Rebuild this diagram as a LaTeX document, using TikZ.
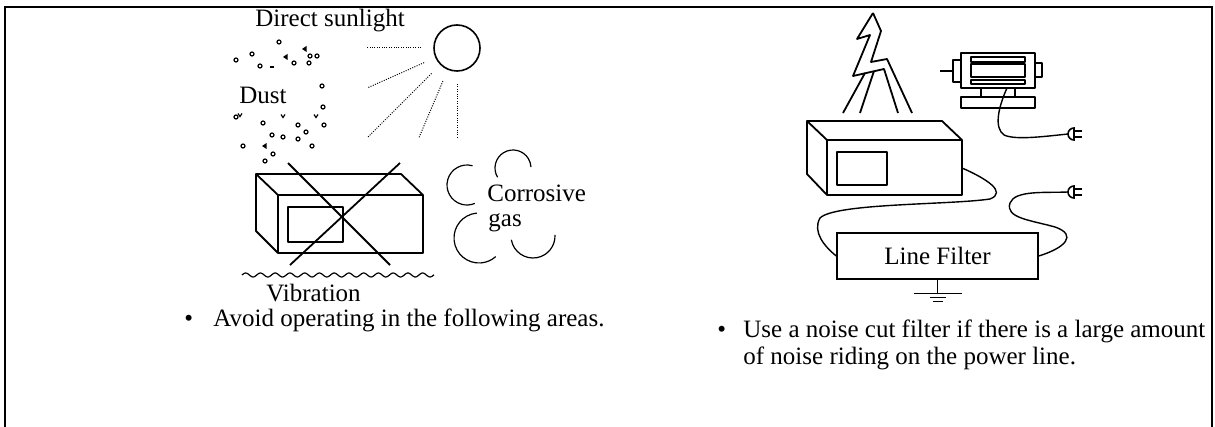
\documentclass[tikz,border=0pt]{standalone}
\usepackage{fontspec}
\setmainfont{Liberation Serif}
\usetikzlibrary{calc}

\begin{document}
\begin{tikzpicture}[x=0.5pt,y=-0.5pt,
   txt/.style={font=\fontsize{12.5}{15}\selectfont,inner sep=0pt},
   ray/.style={line width=0.5pt,dash pattern=on 0.5pt off 0.7pt},
   edge/.style={line width=0.9pt,line join=round},
   thinline/.style={line width=0.6pt},
   cable/.style={line width=0.7pt},
   plug/.pic={
     \draw[line width=0.8pt,fill=white] (6,-6) arc[start angle=270,end angle=90,radius=6] -- cycle;
     \draw[line width=0.8pt] (6,-3) -- (14,-3) (6,3) -- (14,3);
   }
   ]
    \useasboundingbox (0,0) rectangle (1215,427);

    % frame (open at the bottom)
    \draw[line width=1.35pt] (5,427) -- (5,7) -- (1212,7) -- (1212,427);

    % sun and rays:
    \node[draw,circle,line width=0.8pt,minimum size=23pt,inner sep=0pt] (sun) at (457,48) {};
    \foreach \a/\l in {180/90,156/98,135/126,113/97,90/91}
      \draw[ray] ([shift={(\a:36)}]sun.center) -- ([shift={(\a:\l)}]sun.center);
    \node[txt,anchor=base west] (sunlight) at (255,27) {Direct sunlight};

    % dust:
    \foreach \p in {(279,42),(252,54),(310,56),(317,56),(236,60),(260,66),
                    (294,63),(309,63),(322,86),(323,107),(236,117),(263,123),
                    (324,125),(298,125),(272,135),(283,137),(306,132),(298,139),
                    (312,146),(243,146),(273,154),(265,161)}
      \draw[thinline] \p circle (2);
    \foreach \p in {(302,49),(283,57),(262,146)}
      \fill \p -- ++(4.5,-3) -- ++(0,6) -- cycle;
    \foreach \p in {(240,115),(283,116),(316,116)}
      \draw[thinline] \p ++(-2,-1.5) -- ++(2,3) -- ++(2,-3);
    \draw[thinline] (270,67) -- (274,67);
    \node[txt,anchor=base west] (dust) at (239,104) {Dust};

    % crossed-out cabinet:
    \draw[edge] (278,195) rectangle (423,253);
    \draw[edge] (278,195) -- (256,174) -- (401,174) -- (423,195);
    \draw[edge] (256,174) -- (256,231) -- (278,253);
    \draw[edge] (288,207) rectangle (343,242);
    \draw[edge] (288,163) -- (390,265);
    \draw[edge] (400,163) -- (290,265);

    % vibration:
    \draw[thinline] plot[domain=242:434,samples=160,smooth]
      (\x,{275-2*sin(24.41*(\x-242))});
    \node[txt,anchor=base west] (vib) at (266,301) {Vibration};

    % gas clouds:
    \draw[thinline,shift={(467,185)}] (286:20) arc[start angle=286,end angle=67,radius=20];
    \draw[thinline,shift={(513,168)}] (149:18) arc[start angle=149,end angle=357,radius=18];
    \draw[thinline,shift={(479,238)}] (265:25) arc[start angle=265,end angle=48,radius=25];
    \draw[thinline,shift={(533,236)}] (170:22) arc[start angle=170,end angle=-3,radius=22];
    \node[txt,anchor=base west] (corr) at (487,202) {Corrosive};
    \node[txt,anchor=base west] (gas) at (488,227) {gas};

    % left caption
    \node[txt,anchor=base west] (bulletL) at (184,327) {\textbullet};
    \node[txt,anchor=base west] (avoid) at (213,327) {Avoid operating in the following areas.};

    % lightning:
    \draw[edge] (873,13) -- (857,39) -- (870,35) -- (853,76) -- (884,69) -- (898,113);
    \draw[edge] (873,13) -- (881,31) -- (871,62) -- (887,59) -- (912,113);
    \draw[edge] (865,73) -- (843,113);
    \draw[edge] (874,71) -- (860,113);

    % cabinet:
    \draw[edge] (827,140) rectangle (962,195);
    \draw[edge] (827,140) -- (807,121) -- (942,121) -- (962,140);
    \draw[edge] (807,121) -- (807,174) -- (827,195);
    \draw[edge] (837,152) rectangle (887,185);

    % motor on its stand:
    \draw[edge] (961,53) rectangle (1035,88);
    \draw[edge] (953,60) rectangle (961,82);
    \draw[edge] (1035,63) rectangle (1042,77);
    \draw[thinline] (940,71) -- (953,71);
    \draw[edge] (971,57) rectangle (1025,62);
    \draw[edge] (971,64) rectangle (1025,77);
    \draw[edge] (971,80) rectangle (1025,84);
    \draw[edge] (981,88) -- (981,97) (1015,88) -- (1015,97);
    \draw[edge] (961,97) rectangle (1035,108);

    % filter and ground:
    \node[txt,draw,line width=0.7pt,minimum width=100.5pt,minimum height=23pt]
      (filter) at (937.5,256) {Line Filter};
    \draw[thinline] (filter.south) -- ++(0,14) coordinate (gnd);
    \draw[thinline] ([xshift=-12]gnd) -- ([xshift=12]gnd);
    \draw[thinline] ([shift={(-8,4)}]gnd) -- ([shift={(8,4)}]gnd);
    \draw[thinline] ([shift={(-5,8)}]gnd) -- ([shift={(5,8)}]gnd);

    % cords
    \coordinate (cab) at (962,168);
    \coordinate (motor) at (1007,88);
    \coordinate (plugA) at (1068,134);
    \coordinate (plugB) at (1068,192);
    \draw[cable] (motor) .. controls (998,108) and (994,128) .. (1004,135)
                         .. controls (1015,140) and (1040,137) .. (plugA);
    \draw[cable] (cab) .. controls (985,178) and (1008,192) .. (990,199)
                       .. controls (950,205) and (835,203) .. (820,218)
                       .. controls (812,232) and (825,247) .. (filter.west);
    \draw[cable] (filter.east) .. controls (1065,248) and (1078,235) .. (1055,227)
                               .. controls (1030,220) and (1005,218) .. (1010,203)
                               .. controls (1015,190) and (1045,193) .. (plugB);
    \pic at (plugA) {plug};
    \pic at (plugB) {plug};

    % right caption
    \node[txt,anchor=base west] (bulletR) at (717,337) {\textbullet};
    \node[txt,anchor=base west] (use1) at (743,337) {Use a noise cut filter if there is a large amount};
    \node[txt,anchor=base west] (use2) at (743,364) {of noise riding on the power line.};

\end{tikzpicture}
\end{document}
